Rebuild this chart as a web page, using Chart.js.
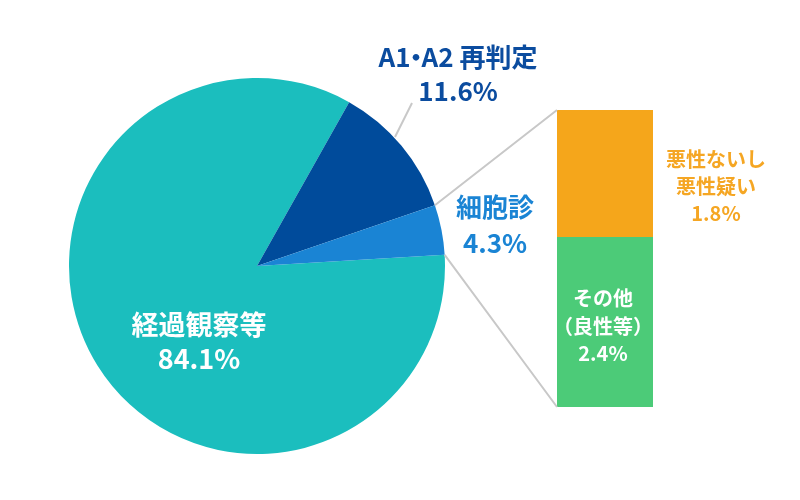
<!DOCTYPE html>
<html><head><meta charset="utf-8">
<script src="https://cdn.jsdelivr.net/npm/chart.js@4/dist/chart.umd.min.js"></script>
<style>
html,body{margin:0;padding:0;background:#fff;}
#wrap{position:relative;width:800px;height:500px;}
#wrap canvas{position:absolute;left:0;top:0;}
</style></head><body>
<div id="wrap"><canvas id="pie" width="800" height="500"></canvas><canvas id="bar" width="800" height="500"></canvas></div>
<script>
const pieLabels = ['経過観察等', 'A1・A2 再判定', '細胞診'];
const pieValues = [84.1, 11.6, 4.3];
const pieColors = ['#1BBEBE', '#004B9B', '#1A84D4'];
const barLabels = ['その他（良性等）', '悪性ないし悪性疑い'];
const barValues = [2.4, 1.8];
const barColors = ['#4CCB78', '#F5A61B'];
const FONT = '"Noto Sans CJK JP", "Noto Sans", sans-serif';

function txt(ctx, s, x, y, size, color) {
  ctx.save();
  ctx.font = 'bold ' + size + 'px ' + FONT;
  ctx.fillStyle = color;
  ctx.textAlign = 'center';
  ctx.textBaseline = 'middle';
  ctx.fillText(s, x, y);
  ctx.restore();
}
// draws a label, squeezing full-width middle dots to a narrow width
function txtDot(ctx, s, x, y, size, color) {
  const parts = s.split('・');
  ctx.save();
  ctx.font = 'bold ' + size + 'px ' + FONT;
  ctx.fillStyle = color;
  ctx.textBaseline = 'middle';
  ctx.textAlign = 'left';
  const dotW = size * 0.42;
  let total = 0;
  parts.forEach((p, i) => { total += ctx.measureText(p).width; if (i < parts.length - 1) total += dotW; });
  let cx = x - total / 2;
  parts.forEach((p, i) => {
    ctx.fillText(p, cx, y);
    cx += ctx.measureText(p).width;
    if (i < parts.length - 1) {
      ctx.textAlign = 'center';
      ctx.fillText('・', cx + dotW / 2, y);
      ctx.textAlign = 'left';
      cx += dotW;
    }
  });
  ctx.restore();
}

const pieLabelPlugin = {
  id: 'pieLabels',
  afterDatasetsDraw(chart) {
    const ctx = chart.ctx;
    ctx.save();
    ctx.strokeStyle = '#C8C8C8';
    ctx.lineWidth = 2;
    ctx.beginPath();
    ctx.moveTo(395, 137); ctx.lineTo(412, 103);
    ctx.stroke();
    ctx.restore();
    txtDot(ctx, pieLabels[1], 458, 57, 26, '#0B4C9F');
    txt(ctx, pieValues[1].toFixed(1) + '%', 458, 91, 26, '#0B4C9F');
    txt(ctx, pieLabels[2], 495, 207, 26, '#1A84D4');
    txt(ctx, pieValues[2].toFixed(1) + '%', 495, 243, 26, '#1A84D4');
    txt(ctx, pieLabels[0], 199, 325, 27, '#FFFFFF');
    txt(ctx, pieValues[0].toFixed(1) + '%', 199, 359, 27, '#FFFFFF');
  }
};

const pieChart = new Chart(document.getElementById('pie'), {
  type: 'pie',
  data: { labels: pieLabels, datasets: [{ data: pieValues, backgroundColor: pieColors, borderWidth: 0 }] },
  options: {
    responsive: false, animation: false,
    rotation: 86.6,
    layout: { padding: { left: 69, right: 355, top: 78, bottom: 46 } },
    plugins: { legend: { display: false }, tooltip: { enabled: false } }
  },
  plugins: [pieLabelPlugin]
});

const barPlugin = {
  id: 'barExtras',
  afterDatasetsDraw(chart) {
    const ctx = chart.ctx;
    const arc = pieChart.getDatasetMeta(0).data[2];
    const p = arc.getProps(['x', 'y', 'startAngle', 'endAngle', 'outerRadius'], true);
    const top = chart.getDatasetMeta(1).data[0];
    const bot = chart.getDatasetMeta(0).data[0];
    const bx = top.x - top.width / 2;
    ctx.save();
    ctx.strokeStyle = '#C8C8C8';
    ctx.lineWidth = 2;
    ctx.beginPath();
    ctx.moveTo(p.x + p.outerRadius * Math.cos(p.startAngle), p.y + p.outerRadius * Math.sin(p.startAngle));
    ctx.lineTo(bx, top.y);
    ctx.moveTo(p.x + p.outerRadius * Math.cos(p.endAngle), p.y + p.outerRadius * Math.sin(p.endAngle));
    ctx.lineTo(bx, bot.base);
    ctx.stroke();
    ctx.restore();
    txt(ctx, '悪性ないし', 716, 159, 20, '#F5A623');
    txt(ctx, '悪性疑い', 716, 186, 20, '#F5A623');
    txt(ctx, barValues[1].toFixed(1) + '%', 716, 213, 20, '#F5A623');
    txt(ctx, 'その他', 603, 298, 20, '#FFFFFF');
    txt(ctx, '（良性等）', 603, 326, 20, '#FFFFFF');
    txt(ctx, barValues[0].toFixed(1) + '%', 603, 353, 20, '#FFFFFF');
  }
};

new Chart(document.getElementById('bar'), {
  type: 'bar',
  data: {
    labels: [''],
    datasets: barLabels.map((l, i) => ({ label: l, data: [barValues[i]], backgroundColor: barColors[i], borderWidth: 0, barPercentage: 1, categoryPercentage: 1 }))
  },
  options: {
    responsive: false, animation: false,
    layout: { padding: { left: 557, right: 147, top: 110, bottom: 93 } },
    scales: {
      x: { stacked: true, display: false },
      y: { stacked: true, display: false, min: 0, max: barValues.reduce((a, b) => a + b, 0) }
    },
    plugins: { legend: { display: false }, tooltip: { enabled: false } }
  },
  plugins: [barPlugin]
});
</script>
</body></html>
